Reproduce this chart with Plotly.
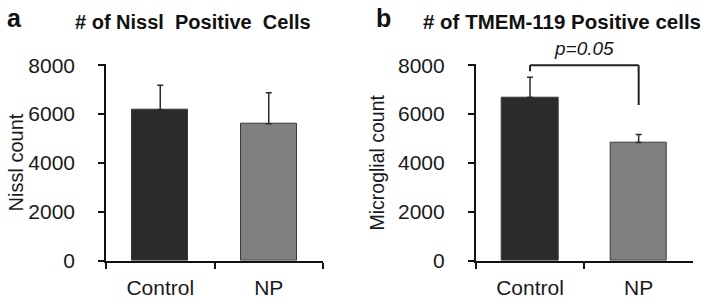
import plotly.graph_objects as go

categories = ["Control", "NP"]
nissl_values = [6180, 5600]
nissl_errors = [1000, 1270]
tmem_values = [6680, 4840]
tmem_errors = [830, 320]
bar_colors = ["#2b2b2b", "#808080"]
y_ticks = [0, 2000, 4000, 6000, 8000]
bracket_top = 8000
bracket_left_end = 7750
bracket_right_end = 6370
p_label = "p=0.05"

font = "Liberation Sans, Arial"

W, H = 706, 304


def px(x):
    return x / W


def py(y):
    return 1 - y / H


fig = go.Figure()

for vals, errs, xa, ya in [(nissl_values, nissl_errors, "x", "y"),
                           (tmem_values, tmem_errors, "x2", "y2")]:
    fig.add_trace(go.Bar(
        x=categories, y=vals, xaxis=xa, yaxis=ya, width=0.52,
        marker=dict(color=bar_colors, line=dict(color="#3a3a3a", width=1)),
        error_y=dict(type="data", array=errs, arrayminus=[0, 0], symmetric=False,
                     color="#2a2a2a", thickness=1.5, width=3),
        showlegend=False,
    ))

ydom = [py(260.7), py(63.7)]
axis_common = dict(showline=True, linecolor="#111111", linewidth=1.6, ticks="outside",
                   ticklen=6, tickwidth=1.6, tickcolor="#111111", showgrid=False, zeroline=False,
                   automargin=False,
                   tickfont=dict(family=font, size=21, color="#1a1a1a"))

fig.update_layout(
    width=W, height=H, margin=dict(l=0, r=0, t=0, b=0, autoexpand=False),
    paper_bgcolor="white", plot_bgcolor="white",
    bargap=0,
    xaxis=dict(domain=[px(106), px(323)], range=[-0.5, 1.5], tickson="boundaries",
               anchor="y", ticklabelstandoff=7, **axis_common),
    yaxis=dict(domain=ydom, range=[0, 8060], tickvals=y_ticks, anchor="x",
               ticklabelstandoff=19, **axis_common),
    xaxis2=dict(domain=[px(475.7), px(693)], range=[-0.5, 1.5], tickson="boundaries",
                anchor="y2", ticklabelstandoff=7, **axis_common),
    yaxis2=dict(domain=ydom, range=[0, 8060], tickvals=y_ticks, anchor="x2",
                ticklabelstandoff=19, **axis_common),
)

# significance bracket
fig.add_shape(type="line", xref="x2", yref="y2", x0=categories[0], x1=categories[1],
              y0=bracket_top, y1=bracket_top, line=dict(color="#222222", width=2))
fig.add_shape(type="line", xref="x2", yref="y2", x0=categories[0], x1=categories[0],
              y0=bracket_top, y1=bracket_left_end, line=dict(color="#222222", width=2))
fig.add_shape(type="line", xref="x2", yref="y2", x0=categories[1], x1=categories[1],
              y0=bracket_top, y1=bracket_right_end, line=dict(color="#222222", width=2))
fig.add_annotation(xref="x2", yref="paper", x=0.5, y=py(48), text="<i>" + p_label + "</i>",
                   showarrow=False, xanchor="center", yanchor="middle",
                   font=dict(family=font, size=19, color="#1a1a1a"))

ann = [
    dict(x=14.5, y=18, text="<b>a</b>", size=25),
    dict(x=383, y=18, text="<b>b</b>", size=25),
    dict(x=192.5, y=21.5, text="<b># of Nissl  Positive  Cells</b>", size=20),
    dict(x=562, y=21.5, text="<b># of TMEM-119 Positive cells</b>", size=20.5),
]
for a in ann:
    fig.add_annotation(xref="paper", yref="paper", x=px(a["x"]), y=py(a["y"]), text=a["text"],
                       showarrow=False, xanchor="center", yanchor="middle",
                       font=dict(family=font, size=a["size"], color="#111111"))

fig.add_annotation(xref="paper", yref="paper", x=px(15.5), y=py(163), text="Nissl count",
                   textangle=-90, showarrow=False, xanchor="center", yanchor="middle",
                   font=dict(family=font, size=20, color="#1a1a1a"))
fig.add_annotation(xref="paper", yref="paper", x=px(376.5), y=py(163), text="Microglial count",
                   textangle=-90, showarrow=False, xanchor="center", yanchor="middle",
                   font=dict(family=font, size=19.5, color="#1a1a1a"))

fig.write_html("out.html", config={"displayModeBar": False},
               post_script="document.body.style.margin='0px';")
